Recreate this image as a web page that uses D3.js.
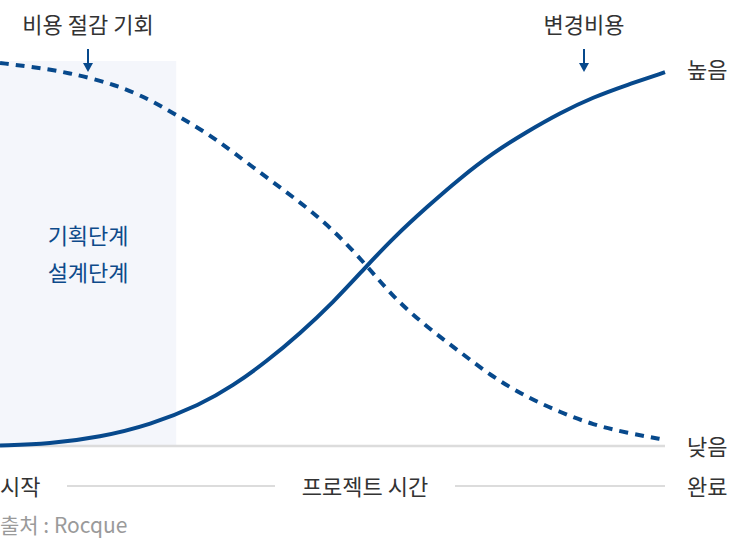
<!DOCTYPE html>
<html><head><meta charset="utf-8">
<script src="https://cdn.jsdelivr.net/npm/d3@7"></script>
<style>
html,body{margin:0;padding:0;background:#fff;}
svg{display:block;font-family:"Noto Sans CJK KR","Noto Sans",sans-serif;}
</style></head>
<body><svg id="c" width="730" height="543"></svg>
<script>
// Project time (% of project) and relative level (0 = 낮음, 100 = 높음)
const changeCostTime  = [0, 7.5, 15.0, 22.6, 30.1, 35.0, 40.2, 45.1, 50.1, 54.9, 59.1, 64.2, 69.2, 74.1, 79.2, 84.2, 89.2, 94.3, 100];
const changeCostValue = [0.1, 0.6, 2.3, 5.5, 10.7, 15.6, 22.1, 29.2, 37.3, 46.3, 54.0, 62.1, 69.6, 76.1, 81.6, 86.5, 90.6, 93.8, 97.1];
const savingTime  = [0, 5.0, 10.1, 17.6, 22.6, 26.5, 31.1, 35.0, 40.2, 45.1, 50.1, 55.2, 59.1, 64.2, 69.2, 74.1, 79.2, 84.2, 89.2, 94.3, 100];
const savingValue = [99.5, 98.4, 97.1, 93.8, 89.9, 86.0, 81.3, 76.4, 69.6, 63.4, 56.2, 46.8, 38.7, 30.9, 24.4, 17.9, 12.7, 8.8, 5.5, 3.4, 1.6];
const phaseRange = [0, 26.5];           // 기획단계 / 설계단계 shaded span
const phaseLabels = ["기획단계", "설계단계"];
const levelLabels = ["높음", "낮음"];
const timeLabels = ["시작", "프로젝트 시간", "완료"];
const seriesLabels = ["비용 절감 기회", "변경비용"];
const sourceText = "출처 : Rocque";

const svg = d3.select("#c");
const blue = "#07498c";
const x = d3.scaleLinear().domain([0, 100]).range([0, 665]);
const y = d3.scaleLinear().domain([0, 100]).range([446, 61]);

// shaded phase
svg.append("rect")
  .attr("x", x(phaseRange[0])).attr("y", y(100))
  .attr("width", x(phaseRange[1]) - x(phaseRange[0]))
  .attr("height", y(0) - y(100))
  .attr("fill", "#f4f6fb");

// baseline
svg.append("line").attr("x1", x(0)).attr("x2", x(100))
  .attr("y1", y(0)).attr("y2", y(0))
  .attr("stroke", "#dcdcdc").attr("stroke-width", 2.5);

const line = d3.line().curve(d3.curveBasis).x(d => x(d[0])).y(d => y(d[1]));

svg.append("path")
  .datum(savingTime.map((t, i) => [t, savingValue[i]]))
  .attr("d", line).attr("fill", "none").attr("stroke", blue)
  .attr("stroke-width", 4).attr("stroke-dasharray", "9,7");

svg.append("path")
  .datum(changeCostTime.map((t, i) => [t, changeCostValue[i]]))
  .attr("d", line).attr("fill", "none").attr("stroke", blue)
  .attr("stroke-width", 4);

// phase labels
svg.selectAll("text.phase").data(phaseLabels).enter().append("text")
  .attr("class", "phase")
  .attr("x", (x(phaseRange[0]) + x(phaseRange[1])) / 2)
  .attr("y", (d, i) => 244 + i * 37)
  .attr("text-anchor", "middle")
  .attr("font-size", 22).attr("fill", "#0d4a8a")
  .text(d => d);

// series labels with arrows
const labelPos = [88, 584];
seriesLabels.forEach((s, i) => {
  svg.append("text").attr("x", labelPos[i]).attr("y", 33)
    .attr("text-anchor", "middle").attr("font-size", 22).attr("fill", "#333")
    .text(s);
  svg.append("line").attr("x1", labelPos[i]).attr("x2", labelPos[i])
    .attr("y1", 49).attr("y2", 66).attr("stroke", blue).attr("stroke-width", 2);
  svg.append("path")
    .attr("d", `M${labelPos[i] - 5},63 L${labelPos[i] + 5},63 L${labelPos[i]},72 Z`)
    .attr("fill", blue);
});

// level labels
svg.append("text").attr("x", 687).attr("y", 78).attr("font-size", 22).attr("fill", "#333").text(levelLabels[0]);
svg.append("text").attr("x", 687).attr("y", 455).attr("font-size", 22).attr("fill", "#333").text(levelLabels[1]);

// time axis
svg.append("text").attr("x", 0).attr("y", 495).attr("font-size", 22).attr("fill", "#333").text(timeLabels[0]);
svg.append("text").attr("x", 365).attr("y", 495).attr("text-anchor", "middle").attr("font-size", 22).attr("fill", "#333").text(timeLabels[1]);
svg.append("text").attr("x", 687).attr("y", 495).attr("font-size", 22).attr("fill", "#333").text(timeLabels[2]);
[[67, 275], [455, 665]].forEach(r => {
  svg.append("line").attr("x1", r[0]).attr("x2", r[1]).attr("y1", 486).attr("y2", 486)
    .attr("stroke", "#dcdcdc").attr("stroke-width", 2);
});

// source
svg.append("text").attr("x", 0).attr("y", 533).attr("font-size", 21).attr("fill", "#9a9a9a").text(sourceText);
</script></body></html>
